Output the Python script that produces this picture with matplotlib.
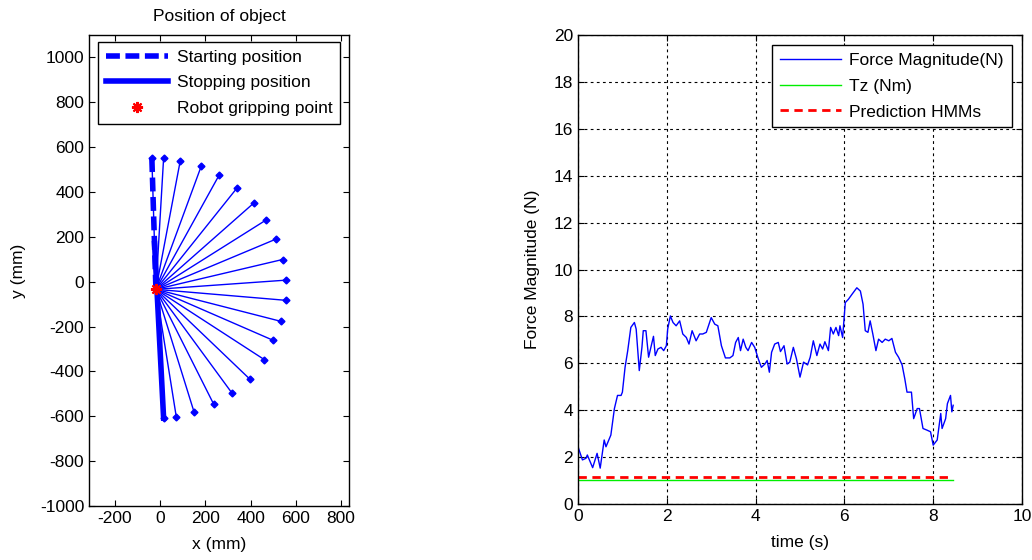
import numpy as np
import matplotlib
matplotlib.use("Agg")
import matplotlib.pyplot as plt

plt.rcParams['font.family'] = ['Liberation Sans', 'DejaVu Sans']
plt.rcParams['font.size'] = 12.5
plt.rcParams['axes.unicode_minus'] = False

# ---- left: object positions (mm) ----
grip_x, grip_y = -19, -34
end_x = [-37, 15, 88, 181, 261, 339, 413, 468, 512, 541, 556, 556, 535, 501, 460, 395, 317, 236, 150, 71, 15]
end_y = [551, 551, 536, 514, 476, 417, 350, 275, 190, 99, 7, -83, -177, -262, -347, -433, -496, -545, -582, -602, -608]
start_x = [-37, -19]
start_y = [551, -34]
stop_x = [-25, 15]
stop_y = [170, -608]

# ---- right: force signal ----
t = [0.00, 0.10, 0.18, 0.21, 0.33, 0.43, 0.50, 0.59, 0.63, 0.74, 0.82, 0.89, 0.97, 1.00, 1.06,
     1.12, 1.19, 1.27, 1.31, 1.38, 1.44, 1.47, 1.53, 1.59, 1.65, 1.70, 1.74, 1.80, 1.87, 1.93,
     1.99, 2.02, 2.08, 2.14, 2.21, 2.29, 2.36, 2.44, 2.50, 2.57, 2.66, 2.74, 2.81, 2.89, 3.00,
     3.08, 3.15, 3.23, 3.32, 3.42, 3.49, 3.55, 3.61, 3.66, 3.72, 3.78, 3.83, 3.91, 3.98, 4.06,
     4.13, 4.21, 4.26, 4.31, 4.36, 4.43, 4.51, 4.56, 4.64, 4.71, 4.77, 4.85, 4.92, 5.00, 5.08,
     5.17, 5.23, 5.30, 5.38, 5.45, 5.51, 5.56, 5.64, 5.69, 5.75, 5.81, 5.87, 5.90, 5.96, 6.02,
     6.09, 6.17, 6.28, 6.36, 6.42, 6.47, 6.53, 6.58, 6.64, 6.71, 6.77, 6.85, 6.92, 7.00, 7.07,
     7.15, 7.22, 7.30, 7.36, 7.41, 7.47, 7.51, 7.56, 7.64, 7.69, 7.77, 7.86, 7.94, 8.00, 8.09,
     8.17, 8.20, 8.28, 8.32, 8.39, 8.42, 8.45]
force = [2.44, 1.88, 1.95, 2.09, 1.55, 2.16, 1.53, 2.73, 2.44, 2.94, 4.07, 4.63, 4.63, 4.77, 5.83,
         6.54, 7.53, 7.74, 7.46, 5.69, 6.68, 7.39, 7.39, 6.26, 6.75, 7.15, 6.33, 6.61, 6.68, 6.54,
         6.75, 7.46, 8.02, 7.74, 7.60, 7.81, 7.25, 7.10, 6.82, 7.39, 6.96, 7.25, 7.25, 7.32, 7.95,
         7.67, 7.60, 6.75, 6.23, 6.23, 6.33, 6.89, 7.10, 6.54, 7.03, 6.68, 6.54, 6.89, 6.68, 6.19,
         5.83, 5.97, 6.12, 5.62, 6.47, 6.82, 6.89, 6.50, 6.75, 5.97, 6.05, 6.68, 6.19, 5.41, 6.05,
         5.93, 6.26, 6.96, 6.33, 6.82, 6.61, 6.92, 6.54, 7.53, 7.25, 7.53, 7.18, 7.60, 7.10, 8.59,
         8.73, 8.94, 9.22, 9.08, 8.52, 7.39, 7.32, 7.81, 7.25, 6.54, 7.03, 6.89, 7.03, 6.96, 7.06,
         6.47, 6.26, 5.93, 5.34, 4.77, 4.77, 4.77, 3.64, 4.07, 4.07, 3.22, 3.15, 3.08, 2.51, 2.73,
         3.86, 3.22, 3.64, 4.28, 4.63, 3.93, 4.21]
tz_t = [0, 8.45]
tz_val = [1.03, 1.03]
hmm_val = [1.17, 1.17]

fig = plt.figure(figsize=(10.32, 5.6), dpi=100)

ax1 = fig.add_axes([89/1032, 54/560, 260/1032, 471/560])
for ex, ey in zip(end_x, end_y):
    ax1.plot([grip_x, ex], [grip_y, ey], color='b', lw=1)
ax1.plot(end_x, end_y, color='b', marker='D', ms=3.5, ls='none')
ax1.plot(start_x, start_y, color='b', lw=4, ls=(0, (2.5, 1)), label='Starting position')
ax1.plot(stop_x, stop_y, color='b', lw=4, label='Stopping position')
ax1.plot([grip_x], [grip_y], color='r', marker=(8, 2, 0), ms=8, mew=1.5, ls='none',
         label='Robot gripping point')
ax1.set_xlim(-315, 835)
ax1.set_ylim(-1000, 1100)
ax1.set_xticks(np.arange(-200, 801, 200))
ax1.set_yticks(np.arange(-1000, 1001, 200))
ax1.set_xlabel('x (mm)', labelpad=8)
ax1.set_ylabel('y (mm)', labelpad=10)
ax1.set_title('Position of object', fontsize=12.5, pad=10)
leg1 = ax1.legend(loc='upper center', fancybox=False, edgecolor='k', framealpha=1,
                  handlelength=3.6, borderpad=0.45, labelspacing=0.6, handletextpad=0.5,
                  borderaxespad=0.4)
leg1.get_frame().set_linewidth(1)

ax2 = fig.add_axes([578/1032, 56/560, 444/1032, 469/560])
ax2.plot(t, force, color='b', lw=1, label='Force Magnitude(N)')
ax2.plot(tz_t, tz_val, color='#00ee00', lw=1, label='Tz (Nm)')
ax2.plot(tz_t, hmm_val, color='r', lw=2, ls=(0, (3, 2)), label='Prediction HMMs')
ax2.set_xlim(0, 10)
ax2.set_ylim(0, 20)
ax2.set_xticks(np.arange(0, 11, 2))
ax2.set_yticks(np.arange(0, 21, 2))
ax2.grid(True, color='k', ls=(0, (2.5, 3)), lw=0.8)
ax2.set_xlabel('time (s)', labelpad=8)
ax2.set_ylabel('Force Magnitude (N)', labelpad=10)
leg2 = ax2.legend(loc='upper right', fancybox=False, edgecolor='k', framealpha=1,
                  handlelength=3.5, borderpad=0.45, labelspacing=0.6, handletextpad=0.5,
                  borderaxespad=0.6)
leg2.get_frame().set_linewidth(1)

for ax in (ax1, ax2):
    ax.tick_params(direction='in', top=True, right=True, length=4, labelsize=12.5)
    for s in ax.spines.values():
        s.set_linewidth(1)

fig.savefig('out.png', dpi=100)
